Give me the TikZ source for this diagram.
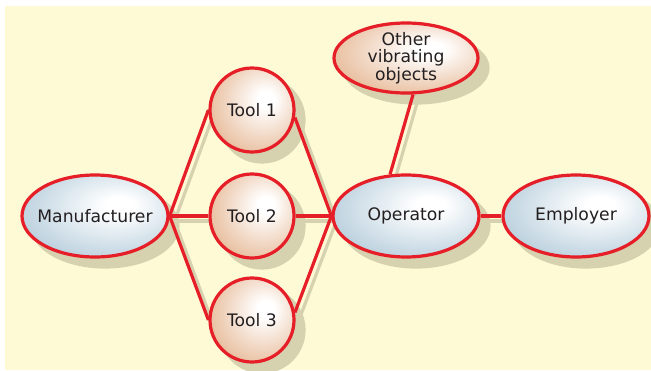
\documentclass[tikz,border=0pt]{standalone}
\usepackage{fontspec}
\setmainfont{DejaVu Sans}
\usetikzlibrary{shapes.geometric}

\definecolor{bgc}{HTML}{FEFAD6}
\definecolor{redc}{HTML}{E61E27}
\definecolor{shadowc}{HTML}{D6D2B0}
\definecolor{bluec}{HTML}{A0BED1}
\definecolor{tanc}{HTML}{DFA477}
\definecolor{textc}{HTML}{231F20}

\pgfdeclarelayer{shadow}
\pgfdeclarelayer{lines}
\pgfsetlayers{shadow,lines,main}

\pgfdeclareradialshading{blueshade}{\pgfpoint{9bp}{7bp}}{color(0bp)=(white); color(5bp)=(white); color(42bp)=(bluec); color(70bp)=(bluec)}
\pgfdeclareradialshading{tanshade}{\pgfpoint{9bp}{7bp}}{color(0bp)=(white); color(5bp)=(white); color(42bp)=(tanc); color(70bp)=(tanc)}

\begin{document}
\begin{tikzpicture}[x=1pt,y=-1pt]
\tikzstyle{every node}=[font=\fontsize{17.2}{17.5}\selectfont, text=textc, align=center]
\tikzstyle{partyshape}=[ellipse, inner sep=-25pt, minimum width=146pt, minimum height=82pt, line width=3.2pt]
\tikzstyle{party}=[partyshape, draw=redc, shading=blueshade]
\tikzstyle{toolshape}=[circle, inner sep=-15pt, minimum size=84pt, line width=3.2pt]
\tikzstyle{tool}=[toolshape, draw=redc, shading=tanshade]
\tikzstyle{shadowed}=[draw=shadowc, fill=shadowc, transform canvas={xshift=5pt,yshift=-5pt}]
\tikzstyle{link}=[draw=redc, line width=3.2pt]

\useasboundingbox (0,0) rectangle (651,370);
\begin{pgfonlayer}{shadow}
\fill[bgc] (5,6) rectangle (651,370);
\end{pgfonlayer}

% the parties
\node[party] (man) at (95,216) {Manufacturer};
\node[party] (op) at (406,216) {Operator};
\node[party] (emp) at (576,216) {Employer};
\node[party, shading=tanshade, minimum width=144pt, minimum height=70pt] (other) at (406,58) {Other\\vibrating\\objects};

% the tools
\foreach \i/\y in {1/110,2/216,3/320} {
  \node[tool] (t\i) at (252,\y) {Tool \i};}

% links
\begin{pgfonlayer}{lines}
\foreach \a/\b in {man.east/t1.west, man.east/t2.west, man.east/t3.west, t1.-10/op.west, t2.east/op.west, t3.10/op.west, op.east/emp.west, op.111/other.-79} {
  \draw[link] (\a) -- (\b);}
\end{pgfonlayer}

% shadows
\begin{pgfonlayer}{shadow}
\foreach \a/\b in {man.east/t1.west, man.east/t2.west, man.east/t3.west, t1.-10/op.west, t2.east/op.west, t3.10/op.west, op.east/emp.west, op.111/other.-79} {
  \draw[link, shadowed] (\a) -- (\b);}
\foreach \n in {man,op,emp} {
  \node[partyshape, shadowed] at (\n) {};}
\node[partyshape, shadowed, minimum width=144pt, minimum height=70pt] at (other) {};
\foreach \i in {1,2,3} {
  \node[toolshape, shadowed] at (t\i) {};}
\end{pgfonlayer}
\end{tikzpicture}
\end{document}
